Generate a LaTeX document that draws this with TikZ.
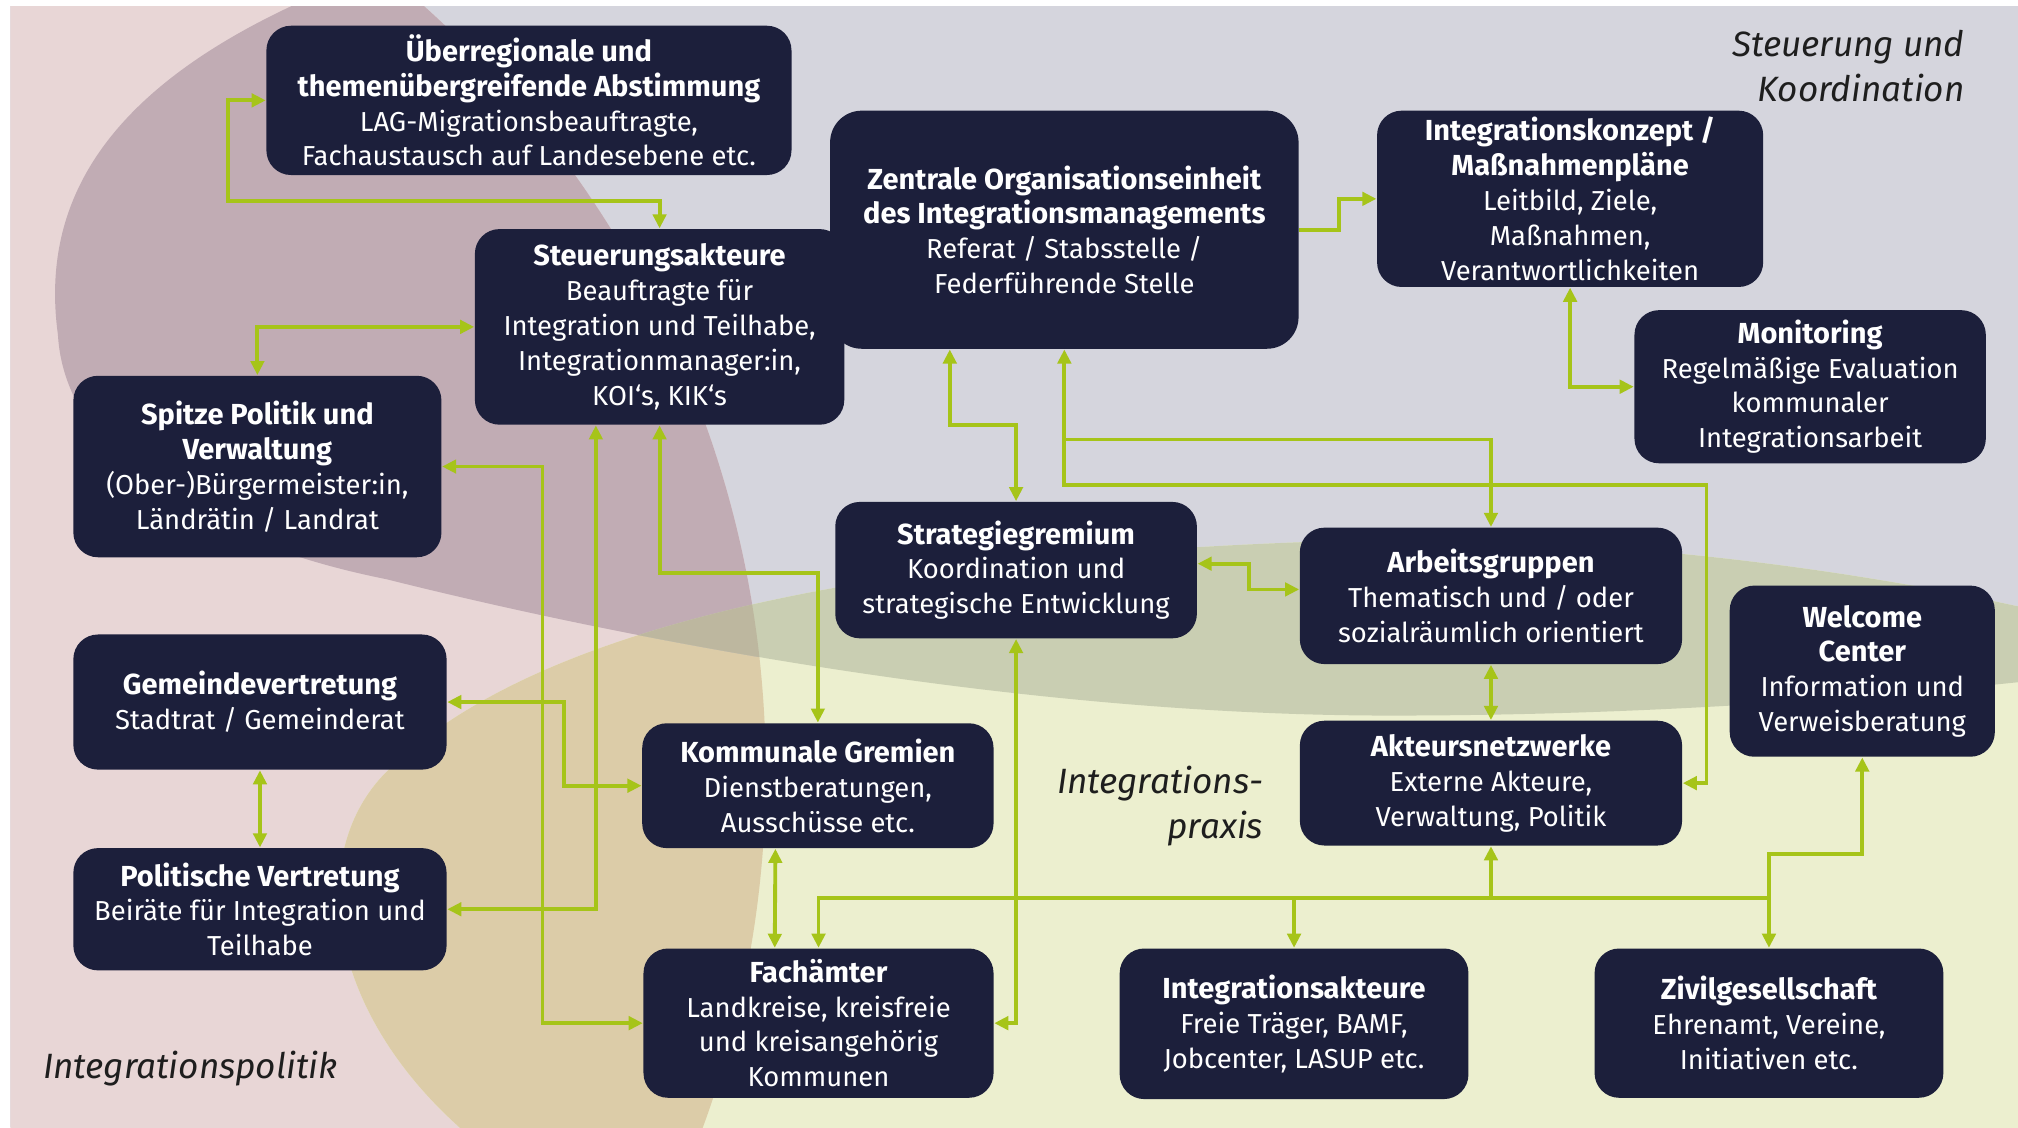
\documentclass[tikz,border=0pt]{standalone}
\usepackage{fontspec}
\setmainfont{Fira Sans}
\usepackage{tikz}
\usetikzlibrary{arrows.meta,calc}
\definecolor{boxnavy}{HTML}{1C1F3B}
\definecolor{linegreen}{HTML}{A6C419}
\definecolor{bggrey}{HTML}{D5D5DD}
\definecolor{bgpink}{HTML}{E8D6D6}
\definecolor{bgmauve}{HTML}{C1ACB4}
\definecolor{bggreen}{HTML}{ECEFCF}
\definecolor{bgolive}{HTML}{C9CEB2}
\definecolor{bgtan}{HTML}{DCCCA8}
\definecolor{bgtriple}{HTML}{BDB79F}
\definecolor{lbltext}{HTML}{1E1E1E}
\newcommand{\boxfont}{\fontsize{7.8pt}{9.9pt}\selectfont}
\newcommand{\hd}[1]{{\fontsize{8.25pt}{9.9pt}\selectfont\bfseries #1}}
\newcommand{\lblfont}{\fontsize{10pt}{12.8pt}\selectfont\itshape}
% the three regions behind the boxes
\newcommand{\pinkshape}{(-205,600) circle[radius=800]}
\newcommand{\greyshape}{(45,260) .. controls (30,150) and (90,60) .. (260,-10)
  -- (1700,-10) -- (1700,515) .. controls (1500,540) and (1300,556) .. (1080,556)
  .. controls (800,556) and (500,500) .. (300,450)
  .. controls (150,420) and (50,350) .. (45,260) -- cycle}
\newcommand{\greenshape}{(1700,505) .. controls (1500,445) and (1250,415) .. (1050,420)
  .. controls (700,430) and (420,480) .. (300,600)
  .. controls (240,660) and (250,780) .. (357,876)
  -- (400,1000) -- (1700,1000) -- cycle}
\tikzset{
  nbox/.style={draw=none, rounded corners=7pt, fill=boxnavy, text=white,
    align=center, font=\boxfont, inner sep=0pt},
  sz/.style 2 args={minimum width=#1*0.01287cm, minimum height=#2*0.01287cm},
  lbl/.style={font=\lblfont, text=lbltext, inner sep=0pt},
  arr/.style={-{Triangle[length=4pt,width=3.8pt]}, line width=1.1pt, draw=linegreen},
  barr/.style={{Triangle[length=4pt,width=3.8pt]}-{Triangle[length=4pt,width=3.8pt]},
    line width=1.1pt, draw=linegreen},
  bus/.style={line width=1.1pt, draw=linegreen},
}

\begin{document}
\begin{tikzpicture}[x=0.01287cm, y=-0.01287cm]
  \useasboundingbox (0,0) rectangle (1568,876);
  % background regions
  \begin{scope}
    \clip (8,5) rectangle (1568,876);
    \fill[bggrey] (8,5) rectangle (1568,876);
    \fill[bgpink] \pinkshape;
    \fill[bggreen] \greenshape;
    \begin{scope}
      \clip \pinkshape;
      \fill[bgtan] \greenshape;
    \end{scope}
    \begin{scope}
      \clip \greyshape;
      \fill[bgmauve] \pinkshape;
      \fill[bgolive] \greenshape;
      \clip \pinkshape;
      \fill[bgtriple] \greenshape;
    \end{scope}
  \end{scope}

  % region labels
  \node[lbl, anchor=east, align=right] (steuerlbl) at (1527,51)
    {Steuerung und\\Koordination};
  \node[lbl, anchor=east, align=right] (praxislbl) at (982,626)
    {Integrations-\\praxis};
  \node[lbl, anchor=west] (politiklbl) at (33,830) {Integrationspolitik};

  % boxes
  \node[nbox, sz={408}{116}] (ueber) at (411,78) {
    \hd{Überregionale und}\\
    \hd{themenübergreifende Abstimmung}\\
    LAG-Migrationsbeauftragte,\\
    Fachaustausch auf Landesebene etc.};
  \node[nbox, sz={287}{152}] (steuer) at (512.5,254) {
    \hd{Steuerungsakteure}\\
    Beauftragte für\\
    Integration und Teilhabe,\\
    Integrationmanager:in,\\
    KOI‘s, KIK‘s};
  \node[nbox, sz={364}{185}, rounded corners=9pt] (zentral) at (827,178.5) {
    \hd{Zentrale Organisationseinheit}\\
    \hd{des Integrationsmanagements}\\
    Referat / Stabsstelle /\\
    Federführende Stelle};
  \node[nbox, sz={300}{137}] (konzept) at (1220,154.5) {
    \hd{Integrationskonzept /}\\
    \hd{Maßnahmenpläne}\\
    Leitbild, Ziele,\\
    Maßnahmen,\\
    Verantwortlichkeiten};
  \node[nbox, sz={273}{119}] (monitor) at (1406.5,300.5) {
    \hd{Monitoring}\\
    Regelmäßige Evaluation\\
    kommunaler\\
    Integrationsarbeit};
  \node[nbox, sz={286}{141}] (spitze) at (200,362.5) {
    \hd{Spitze Politik und}\\
    \hd{Verwaltung}\\
    (Ober-)Bürgermeister:in,\\
    Ländrätin / Landrat};
  \node[nbox, sz={281}{106}] (strat) at (789.5,443) {
    \hd{Strategiegremium}\\
    Koordination und\\
    strategische Entwicklung};
  \node[nbox, sz={297}{106}] (arbeit) at (1158.5,463) {
    \hd{Arbeitsgruppen}\\
    Thematisch und / oder\\
    sozialräumlich orientiert};
  \node[nbox, sz={206}{133}] (welcome) at (1447,521.5) {
    \hd{Welcome}\\
    \hd{Center}\\
    Information und\\
    Verweisberatung};
  \node[nbox, sz={290}{105}] (gemeinde) at (202,545.5) {
    \hd{Gemeindevertretung}\\
    Stadtrat / Gemeinderat};
  \node[nbox, sz={273}{97}] (kommunal) at (635.5,610.5) {
    \hd{Kommunale Gremien}\\
    Dienstberatungen,\\
    Ausschüsse etc.};
  \node[nbox, sz={297}{97}] (netz) at (1158.5,608.5) {
    \hd{Akteursnetzwerke}\\
    Externe Akteure,\\
    Verwaltung, Politik};
  \node[nbox, sz={290}{95}] (politisch) at (202,706.5) {
    \hd{Politische Vertretung}\\
    Beiräte für Integration und\\
    Teilhabe};
  \node[nbox, sz={272}{116}] (facham) at (636,795) {
    \hd{Fachämter}\\
    Landkreise, kreisfreie\\
    und kreisangehörig\\
    Kommunen};
  \node[nbox, sz={271}{117}] (iakteure) at (1005.5,795.5) {
    \hd{Integrationsakteure}\\
    Freie Träger, BAMF,\\
    Jobcenter, LASUP etc.};
  \node[nbox, sz={271}{116}] (zivil) at (1374.5,795) {
    \hd{Zivilgesellschaft}\\
    Ehrenamt, Vereine,\\
    Initiativen etc.};

  % connectors, left part
  \draw[barr] (ueber.west) -- ++(-29,0) |- ($(steuer.north)+(0,-21)$) -- (steuer.north);
  \draw[barr] (spitze.north) |- (steuer.west);
  \draw[barr] ($(steuer.south)+(-49.5,0)$) |- (politisch.east);
  \draw[barr] (spitze.east) -- ++(78,0) |- (facham.west);
  \draw[barr] (gemeinde.east) -- ++(91,0) |- (kommunal.west);
  \draw[barr] (gemeinde.south) -- (politisch.north);
  \draw[barr] (steuer.south) -- ++(0,115) -| (kommunal.north);
  \draw[barr] ($(kommunal.south)+(-33,0)$) -- ($(facham.north)+(-34,0)$);

  % connectors, centre and right
  \draw[barr] ($(zentral.south)+(-89,0)$) -- ++(0,59) -| (strat.north);
  \draw[barr] (zentral.south) -- ++(0,70) -| (arbeit.north);
  \draw[arr] ($(zentral.south)+(0,70)$) -- ++(0,35) -- ++(499,0) |- (netz.east);
  \draw[barr] ($(strat.east)+(0,-5)$) -- ++(40,0) |- ($(arbeit.west)+(0,-5)$);
  \draw[barr] (strat.south) |- (facham.east);
  \draw[barr] (arbeit.south) -- (netz.north);
  \draw[arr] (zentral.east) -- ++(31,0) |- (konzept.west);
  \draw[barr] (konzept.south) |- (monitor.west);

  % bottom bus
  \coordinate (hub) at ($(netz.south)+(0,40)$);
  \draw[bus] (facham.north |- hub) -- (zivil.north |- hub);
  \draw[arr] (hub) -- (netz.south);
  \draw[arr] (hub) -| (facham.north);
  \draw[arr] (hub) -| (iakteure.north);
  \draw[arr] (hub) -| (zivil.north);
  \draw[arr] (zivil.north |- hub) -- ++(0,-34) -| (welcome.south);
\end{tikzpicture}
\end{document}
